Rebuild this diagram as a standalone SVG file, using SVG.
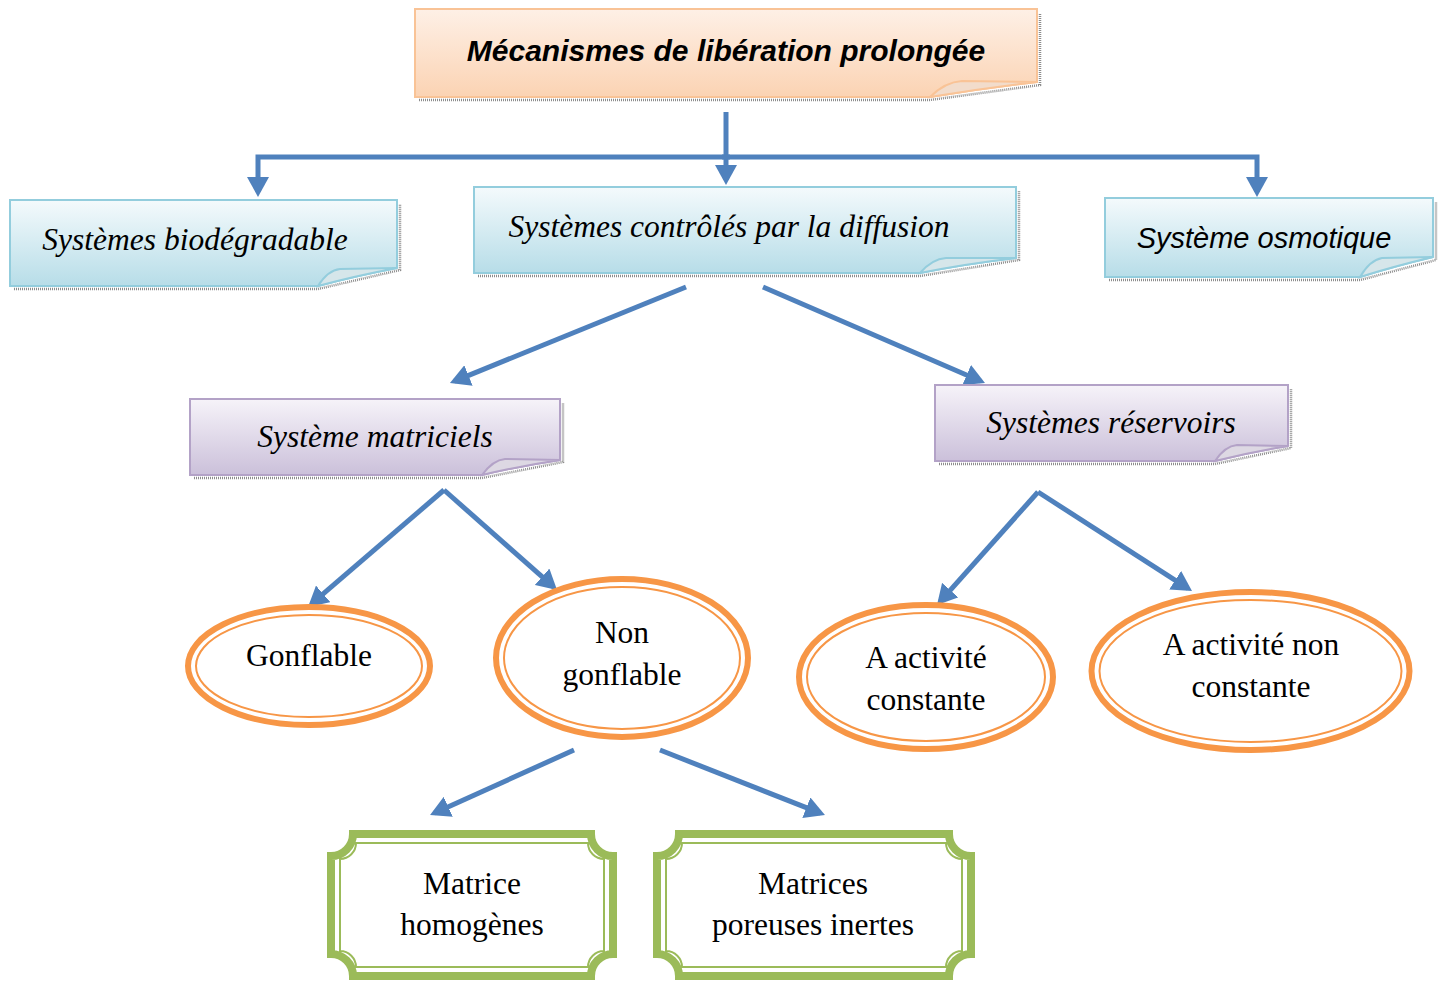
<svg xmlns="http://www.w3.org/2000/svg" width="1438" height="982" viewBox="0 0 1438 982">
<defs>
<linearGradient id="gPeach" x1="0" y1="0" x2="0" y2="1"><stop offset="0" stop-color="#fef0e6"/><stop offset="1" stop-color="#fbd3b3"/></linearGradient>
<linearGradient id="gBlue" x1="0" y1="0" x2="0" y2="1"><stop offset="0" stop-color="#f4fafc"/><stop offset="1" stop-color="#b7dde8"/></linearGradient>
<linearGradient id="gPurple" x1="0" y1="0" x2="0" y2="1"><stop offset="0" stop-color="#f6f3f9"/><stop offset="1" stop-color="#cbc0da"/></linearGradient>
<marker id="ah" viewBox="0 0 20 22" refX="15" refY="11" markerWidth="20" markerHeight="22" markerUnits="userSpaceOnUse" orient="auto"><path d="M0 0 L20 11 L0 22 Z" fill="#4f81bd"/></marker>
<style>
.conn{fill:none;stroke:#4f81bd;stroke-width:5;marker-end:url(#ah)}
.shadow{fill:none;stroke:#8c8c8c;stroke-width:2.5;stroke-dasharray:1 1}
.peach{fill:url(#gPeach);stroke:#f9c396;stroke-width:2}
.blue{fill:url(#gBlue);stroke:#93cddd;stroke-width:2}
.purple{fill:url(#gPurple);stroke:#b3a2c7;stroke-width:2}
.foldP{fill:#f2dccb;stroke:#f9c396;stroke-width:2}
.foldB{fill:#d6e6ea;stroke:#93cddd;stroke-width:2}
.foldU{fill:#ddd8e3;stroke:#b3a2c7;stroke-width:2}
.ellO{fill:#fff;stroke:#f79646;stroke-width:6}
.ellI{fill:none;stroke:#f79646;stroke-width:2}
.grO{fill:#fff;stroke:#9bbb59;stroke-width:8}
.grI{fill:none;stroke:#9bbb59;stroke-width:2}
.ser{font-family:"Liberation Serif","Times New Roman",serif;font-size:31.5px;fill:#000;text-anchor:middle}
.seri{font-family:"Liberation Serif","Times New Roman",serif;font-style:italic;font-size:31.5px;fill:#000;text-anchor:middle}
.sansi{font-family:"Liberation Sans",Arial,sans-serif;font-style:italic;font-size:29px;fill:#000;text-anchor:middle}
.title{font-family:"Liberation Sans",Arial,sans-serif;font-style:italic;font-weight:bold;font-size:30px;fill:#000;text-anchor:middle}
</style>
</defs>

<g id="connectors">
<path class="conn" d="M726 112 V180"/>
<path class="conn" d="M730 157 H258 V192"/>
<path class="conn" d="M722 157 H1257 V192"/>
<path class="conn" d="M686 287 L454.6 381.1"/>
<path class="conn" d="M763 287 L980.4 381"/>
<path class="conn" d="M444 490 L311.8 603.7"/>
<path class="conn" d="M444 490 L553.3 586.7"/>
<path class="conn" d="M1038 492 L940.3 601.3"/>
<path class="conn" d="M1038 492 L1187.8 588.3"/>
<path class="conn" d="M574 750 L434.6 813"/>
<path class="conn" d="M660 750 L820.3 813.2"/>
</g>

<g id="n-mecanismes">
<path class="shadow" d="M419 100 H930 L1040 85 V13"/>
<path class="peach" d="M415 9 H1037 V82 Q985 88 930 97 H415 Z"/>
<path class="foldP" d="M930 97 Q945 82 962 81 L1037 82 Q985 88 930 97 Z"/>
<text class="title" x="726" y="61">Mécanismes de libération prolongée</text>
</g>

<g id="n-biodegradable">
<path class="shadow" d="M14 289 H318 L400 270 V204"/>
<path class="blue" d="M10 200 H397 V268 Q355 276 318 286 H10 Z"/>
<path class="foldB" d="M318 286 Q328 270 340 269 L397 268 Q355 276 318 286 Z"/>
<text class="seri" x="195" y="250">Systèmes biodégradable</text>
</g>

<g id="n-diffusion">
<path class="shadow" d="M478 276 H920 L1019 260 V191"/>
<path class="blue" d="M474 187 H1016 V258 Q965 264 920 273 H474 Z"/>
<path class="foldB" d="M920 273 Q932 259 946 258 L1016 258 Q965 264 920 273 Z"/>
<text class="seri" x="729" y="237">Systèmes contrôlés par la diffusion</text>
</g>

<g id="n-osmotique">
<path class="shadow" d="M1109 280 H1360 L1436 260 V202"/>
<path class="blue" d="M1105 198 H1433 V257 Q1395 266 1360 277 H1105 Z"/>
<path class="foldB" d="M1360 277 Q1370 260 1382 258 L1433 257 Q1395 266 1360 277 Z"/>
<text class="sansi" x="1264" y="248">Système osmotique</text>
</g>

<g id="n-matriciels">
<path class="shadow" d="M194 478 H482 L563 462 V403"/>
<path class="purple" d="M190 399 H560 V460 Q520 466 482 475 H190 Z"/>
<path class="foldU" d="M482 475 Q493 460 505 459 L560 460 Q520 466 482 475 Z"/>
<text class="seri" x="375" y="447">Système matriciels</text>
</g>

<g id="n-reservoirs">
<path class="shadow" d="M939 464 H1215 L1291 448 V389"/>
<path class="purple" d="M935 385 H1288 V446 Q1250 452 1215 461 H935 Z"/>
<path class="foldU" d="M1215 461 Q1225 446 1237 445 L1288 446 Q1250 452 1215 461 Z"/>
<text class="seri" x="1111" y="433">Systèmes réservoirs</text>
</g>

<g id="n-gonflable">
<ellipse class="ellO" cx="309" cy="666" rx="121" ry="59"/>
<ellipse class="ellI" cx="309" cy="666" rx="113" ry="51"/>
<text class="ser" x="309" y="666">Gonflable</text>
</g>

<g id="n-nongonflable">
<ellipse class="ellO" cx="622" cy="658" rx="126" ry="79"/>
<ellipse class="ellI" cx="622" cy="658" rx="118" ry="71"/>
<text class="ser" x="622" y="643">Non</text>
<text class="ser" x="622" y="685">gonflable</text>
</g>

<g id="n-constante">
<ellipse class="ellO" cx="926" cy="677" rx="127" ry="72"/>
<ellipse class="ellI" cx="926" cy="677" rx="119" ry="64"/>
<text class="ser" x="926" y="668">A activité</text>
<text class="ser" x="926" y="710">constante</text>
</g>

<g id="n-nonconstante">
<ellipse class="ellO" cx="1250.5" cy="671" rx="159" ry="79"/>
<ellipse class="ellI" cx="1250.5" cy="671" rx="151" ry="71"/>
<text class="ser" x="1251" y="655">A activité non</text>
<text class="ser" x="1251" y="697">constante</text>
</g>

<g id="n-homogenes">
<path class="grO" d="M353 834 H591 A22 22 0 0 0 613 856 V954 A22 22 0 0 0 591 976 H353 A22 22 0 0 0 331 954 V856 A22 22 0 0 0 353 834 Z"/>
<path class="grI" d="M356 843 H588 A16 16 0 0 0 604 859 V951 A16 16 0 0 0 588 967 H356 A16 16 0 0 0 340 951 V859 A16 16 0 0 0 356 843 Z"/>
<text class="ser" x="472" y="894">Matrice</text>
<text class="ser" x="472" y="935">homogènes</text>
</g>

<g id="n-poreuses">
<path class="grO" d="M679 834 H949 A22 22 0 0 0 971 856 V954 A22 22 0 0 0 949 976 H679 A22 22 0 0 0 657 954 V856 A22 22 0 0 0 679 834 Z"/>
<path class="grI" d="M682 843 H946 A16 16 0 0 0 962 859 V951 A16 16 0 0 0 946 967 H682 A16 16 0 0 0 666 951 V859 A16 16 0 0 0 682 843 Z"/>
<text class="ser" x="813" y="894">Matrices</text>
<text class="ser" x="813" y="935">poreuses inertes</text>
</g>
</svg>
